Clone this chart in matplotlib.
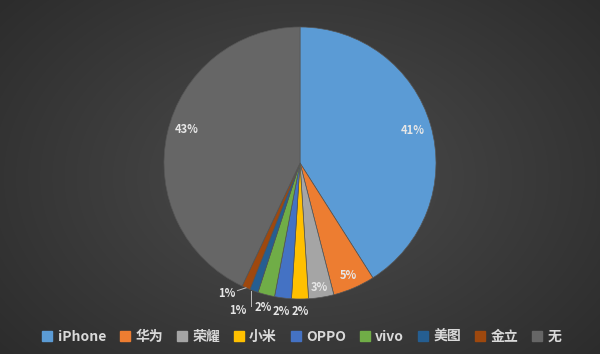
import matplotlib
matplotlib.use("Agg")
import matplotlib.pyplot as plt
import matplotlib.patches as mpatches
import numpy as np

plt.rcParams['font.family'] = ['Noto Sans CJK SC', 'DejaVu Sans']

brands = ['iPhone', '华为', '荣耀', '小米', 'OPPO', 'vivo', '美图', '金立', '无']
shares = [41, 5, 3, 2, 2, 2, 1, 1, 43]
colors = ['#5B9BD5', '#ED7D31', '#A5A5A5', '#FFC000', '#4472C4',
          '#70AD47', '#255E91', '#9E480E', '#666666']

# label radius (in pie radii) and angle nudge per wedge
label_r = [0.86, 0.90, 0.93, 1.09, 1.10, 1.10, 1.18, 1.10, 0.87]
label_da = [0, 0, 0, 0, 0, 0, -3, -6, -4]

fig = plt.figure(figsize=(6, 3.54), dpi=100)

# radial gradient background
bg = fig.add_axes([0, 0, 1, 1])
yy, xx = np.mgrid[0:354, 0:600]
d = np.sqrt(((xx - 300) / 600) ** 2 + ((yy - 177) / 420) ** 2)
d = np.clip(d / 0.72, 0, 1)
shade = 0.30 - 0.14 * d
bg.imshow(np.dstack([shade] * 3), aspect='auto', extent=[0, 1, 0, 1])
bg.axis('off')

S = 340
ax = fig.add_axes([(300 - S / 2) / 600, (354 - 163 - S / 2) / 354, S / 600, S / 354])
wedges, _ = ax.pie(shares, colors=colors, startangle=90, counterclock=False,
                   radius=1, wedgeprops=dict(linewidth=0.5, edgecolor='#555555'))
ax.set_xlim(-1.25, 1.25)
ax.set_ylim(-1.25, 1.25)
ax.set_aspect('equal')
ax.axis('off')

for i, w in enumerate(wedges):
    mid = (w.theta1 + w.theta2) / 2
    a = np.deg2rad(mid + label_da[i])
    x, y = label_r[i] * np.cos(a), label_r[i] * np.sin(a)
    ax.text(x, y, f'{shares[i]}%', ha='center', va='center', fontsize=8,
            fontweight='bold', color='#e6e6e6')
    ex, ey = np.cos(np.deg2rad(mid)), np.sin(np.deg2rad(mid))
    if label_r[i] > 1.15:
        ax.plot([x + 0.1, x + 0.1], [y + 0.04, ey], color='#bfbfbf', lw=0.7)
    elif label_da[i] < -4:
        ax.plot([x + 0.08, ex], [y + 0.02, ey], color='#bfbfbf', lw=0.7)

handles = [mpatches.Patch(color=c, label=b) for b, c in zip(brands, colors)]
leg = fig.legend(handles=handles, loc='center', bbox_to_anchor=(0.503, 17 / 354),
                 ncol=len(brands), frameon=False, handlelength=0.7, handleheight=0.7,
                 handletextpad=0.4, columnspacing=1.0,
                 prop={'size': 10, 'weight': 'bold'})
for t in leg.get_texts():
    t.set_color('#d9d9d9')

fig.savefig('out.png', dpi=100)
